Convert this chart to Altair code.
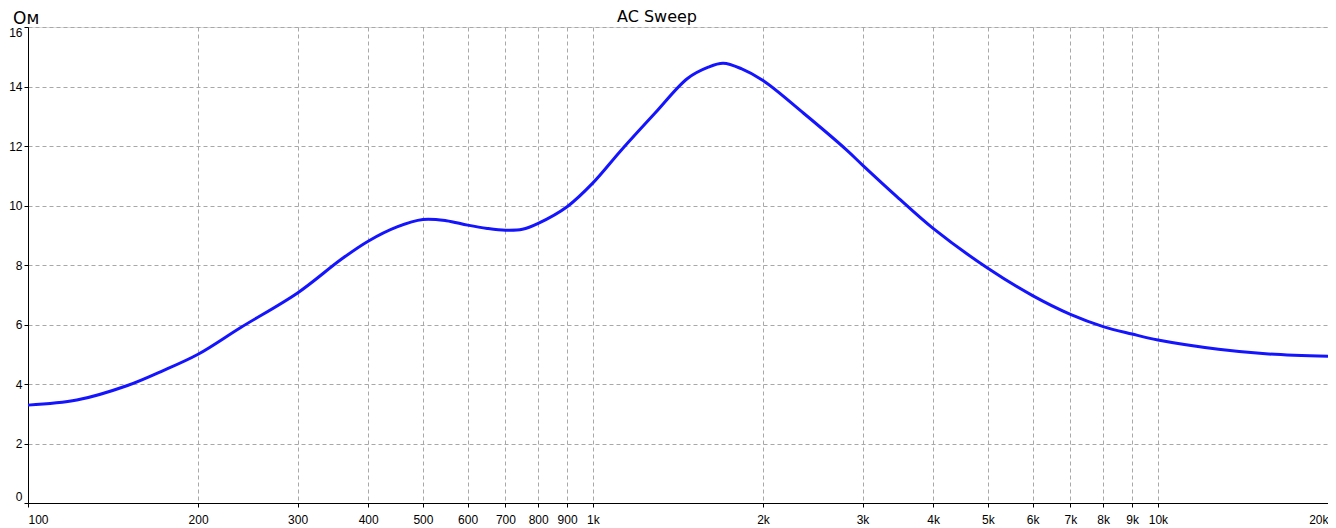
import altair as alt
import pandas as pd

freq = [100, 122, 150, 172, 200, 238, 300, 359, 400, 450, 500, 550, 600, 650,
        700, 750, 800, 900, 1000, 1121, 1287, 1470, 1600, 1700, 1830, 2000, 2360,
        2810, 3000, 3450, 4000, 5000, 6000, 7000, 8000, 9000, 10000,
        12800, 15700, 20000]
ohm = [3.29, 3.46, 3.95, 4.42, 5.0, 5.9, 7.06, 8.2, 8.8, 9.28, 9.53, 9.49, 9.34,
       9.23, 9.17, 9.2, 9.4, 9.96, 10.76, 11.85, 13.1, 14.27, 14.65, 14.78, 14.6,
       14.2, 13.1, 11.87, 11.36, 10.3, 9.23, 7.89, 6.97, 6.34, 5.93, 5.68,
       5.48, 5.17, 5.01, 4.93]

x_ticks = [100, 200, 300, 400, 500, 600, 700, 800, 900,
           1000, 2000, 3000, 4000, 5000, 6000, 7000, 8000, 9000, 10000, 20000]
y_ticks = [0, 2, 4, 6, 8, 10, 12, 14, 16]

chart_title = ["AC Sweep"]
y_unit = ["Ом"]

df = pd.DataFrame({"f": freq, "z": ohm})

FONT = "Liberation Sans"
GRID = "#a8a8a8"

line = alt.Chart(df).mark_line(
    color="#1414ff", strokeWidth=3, interpolate="catmull-rom"
).encode(
    x=alt.X("f:Q",
            scale=alt.Scale(type="log", domain=[100, 20000], nice=False),
            axis=alt.Axis(values=x_ticks, title=None,
                          labelExpr="datum.value >= 1000 ? format(datum.value/1000, 'd') + 'k' : format(datum.value, 'd')",
                          grid=True, gridDash=[4, 3], gridColor=GRID, gridWidth=1,
                          domainColor="black", domainWidth=1,
                          tickColor="black", tickSize=4,
                          labelFlush=True, labelOverlap=False, labelPadding=7,
                          labelFont=FONT, labelFontSize=12, labelColor="black")),
    y=alt.Y("z:Q",
            scale=alt.Scale(domain=[0, 16], nice=False),
            axis=alt.Axis(values=y_ticks, title=None,
                          grid=True, gridDash=[4, 3], gridColor=GRID, gridWidth=1,
                          domainColor="black", domainWidth=1,
                          tickColor="black", tickSize=4,
                          labelFlush=True, labelOverlap=False, labelPadding=2,
                          labelFont=FONT, labelFontSize=12, labelColor="black")),
)

title_text = alt.Chart(pd.DataFrame({"t": chart_title})).mark_text(
    font="DejaVu Sans", fontSize=16, color="black", align="center",
    baseline="alphabetic"
).encode(x=alt.value(629), y=alt.value(-5), text="t:N")

unit_text = alt.Chart(pd.DataFrame({"t": y_unit})).mark_text(
    font="DejaVu Sans", fontSize=17, color="black", align="left",
    baseline="alphabetic"
).encode(x=alt.value(-15), y=alt.value(-3), text="t:N")

chart = alt.layer(line, title_text, unit_text).properties(
    width=1300, height=476,
    autosize=alt.AutoSizeParams(type="none"),
    padding={"left": 20, "top": 19, "right": 0, "bottom": 22},
).configure_view(stroke=None).configure(background="white")

chart.save("out.html", embed_options={"renderer": "svg", "actions": False})
